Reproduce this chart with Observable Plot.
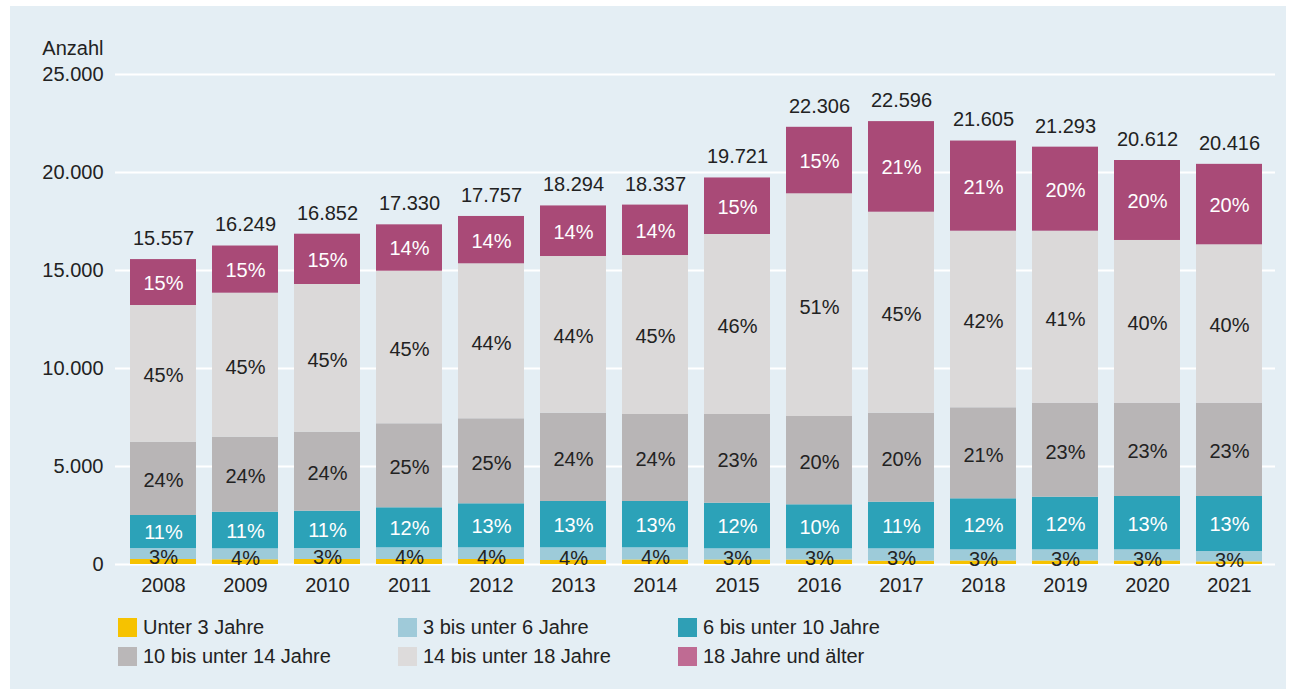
<!DOCTYPE html>
<html>
<head>
<meta charset="utf-8">
<script src="https://cdn.jsdelivr.net/npm/d3@7"></script>
<script src="https://cdn.jsdelivr.net/npm/@observablehq/plot@0.6"></script>
<style>
  body { margin: 0; background: #ffffff; font-family: "Liberation Sans", Arial, sans-serif; }
  #wrap { position: relative; width: 1291px; height: 689px; overflow: hidden; }
  #bg { position: absolute; left: 10px; top: 6px; width: 1276px; height: 683px; background: #e4eef4; }
  #chart { position: absolute; left: 0; top: 0; }
  .leg { position: absolute; font-size: 20px; color: #222; display: flex; align-items: center; white-space: nowrap; height: 19px; }
  .sw { width: 19px; height: 19px; margin-right: 6px; flex: none; }
</style>
</head>
<body>
<div id="wrap">
  <div id="bg"></div>
  <div id="chart"></div>
  <div id="legend"></div>
</div>
<script>
// ---- Data ----
const years = [2008, 2009, 2010, 2011, 2012, 2013, 2014, 2015, 2016, 2017, 2018, 2019, 2020, 2021];
const totals = [15557, 16249, 16852, 17330, 17757, 18294, 18337, 19721, 22306, 22596, 21605, 21293, 20612, 20416];

const groups = ["Unter 3 Jahre", "3 bis unter 6 Jahre", "6 bis unter 10 Jahre", "10 bis unter 14 Jahre", "14 bis unter 18 Jahre", "18 Jahre und älter"];

const unter3    = [255, 240, 255, 255, 255, 204, 230, 230, 230, 168, 179, 179, 179, 138];
const von3bis6  = [561, 561, 561, 597, 597, 648, 622, 571, 571, 633, 571, 571, 571, 525];
const von6bis10 = [1684, 1867, 1903, 2041, 2245, 2362, 2362, 2326, 2245, 2378, 2602, 2684, 2719, 2806];
const von10bis14 = [3740, 3827, 4031, 4286, 4337, 4505, 4439, 4526, 4505, 4540, 4643, 4796, 4761, 4761];
const von14bis18 = [6974, 7347, 7536, 7785, 7908, 7995, 8112, 9184, 11362, 10255, 9010, 8775, 8302, 8081];
const ab18      = [2343, 2407, 2566, 2366, 2415, 2580, 2572, 2884, 3393, 4622, 4600, 4288, 4080, 4105];

// percentage labels as printed
const pct3bis6   = [3, 4, 3, 4, 4, 4, 4, 3, 3, 3, 3, 3, 3, 3];
const pct6bis10  = [11, 11, 11, 12, 13, 13, 13, 12, 10, 11, 12, 12, 13, 13];
const pct10bis14 = [24, 24, 24, 25, 25, 24, 24, 23, 20, 20, 21, 23, 23, 23];
const pct14bis18 = [45, 45, 45, 45, 44, 44, 45, 46, 51, 45, 42, 41, 40, 40];
const pct18      = [15, 15, 15, 14, 14, 14, 14, 15, 15, 21, 21, 20, 20, 20];

const yTicks = [0, 5000, 10000, 15000, 20000, 25000];

const barColors = ["#f6c200", "#9dcbd9", "#2ca2b8", "#b8b5b6", "#dbd9d9", "#a94a77"];
const legendColors = ["#f6c200", "#9fcad9", "#2f9fb5", "#bab7b8", "#dddbdb", "#bf6b93"];

// ---- Build table ----
const series = [unter3, von3bis6, von6bis10, von10bis14, von14bis18, ab18];
const pcts = [null, pct3bis6, pct6bis10, pct10bis14, pct14bis18, pct18];
const rows = [];
years.forEach((yr, i) => {
  groups.forEach((g, gi) => {
    rows.push({year: yr, group: g, gi, value: series[gi][i], pct: pcts[gi] ? pcts[gi][i] : null});
  });
});
const totalsData = years.map((yr, i) => ({year: yr, total: totals[i]}));

const de = d3.formatLocale({decimal: ",", thousands: ".", grouping: [3], currency: ["", " €"]});
const fmt = de.format(",d");

const txt = (set) => d => (set.includes(d.gi) && d.pct != null) ? d.pct + "%" : null;

const chart = Plot.plot({
  width: 1291,
  height: 600,
  marginLeft: 115,
  marginRight: 16,
  marginTop: 74,
  marginBottom: 36,
  style: {background: "transparent", fontFamily: "'Liberation Sans', Arial, sans-serif", fontSize: "20px", color: "#222"},
  x: {type: "band", domain: years, range: [108.2, 1283.2], padding: 0.191},
  y: {domain: [0, 25000]},
  color: {domain: groups, range: barColors},
  marks: [
    Plot.gridY(yTicks, {stroke: "#ffffff", strokeOpacity: 1, strokeWidth: 2}),
    Plot.axisY({ticks: yTicks, tickSize: 0, tickPadding: 12, tickFormat: fmt, fontSize: 20, label: null, fill: "#222"}),
    Plot.axisX({tickSize: 0, tickPadding: 13, tickFormat: d => String(d), fontSize: 20, label: null, fill: "#222"}),
    Plot.barY(rows, {x: "year", y: "value", fill: "group", order: null}),
    Plot.text(rows, Plot.stackY({x: "year", y: "value", z: "group", text: txt([3, 4]), fill: "#222", fontSize: 20, dy: 2})),
    Plot.text(rows, Plot.stackY({x: "year", y: "value", z: "group", text: txt([1]), fill: "#222", fontSize: 20, dy: 4})),
    Plot.text(rows, Plot.stackY({x: "year", y: "value", z: "group", text: txt([2, 5]), fill: "#ffffff", fontSize: 20, dy: 1})),
    Plot.text(totalsData, {x: "year", y: "total", text: d => fmt(d.total), fill: "#222", fontSize: 20, dy: -21}),
    Plot.text(["Anzahl"], {frameAnchor: "top-left", text: d => d, dx: -12, dy: -34, textAnchor: "end", fill: "#222", fontSize: 20})
  ]
});
document.getElementById("chart").appendChild(chart);

// ---- Legend (HTML, below the plot) ----
const legPos = [
  [118, 618], [398, 618], [678, 618],
  [118, 647], [398, 647], [678, 647]
];
const legend = document.getElementById("legend");
groups.forEach((g, gi) => {
  const el = document.createElement("div");
  el.className = "leg";
  el.style.left = legPos[gi][0] + "px";
  el.style.top = legPos[gi][1] + "px";
  const sw = document.createElement("div");
  sw.className = "sw";
  sw.style.background = legendColors[gi];
  el.appendChild(sw);
  const t = document.createElement("span");
  t.textContent = g;
  el.appendChild(t);
  legend.appendChild(el);
});
</script>
</body>
</html>
